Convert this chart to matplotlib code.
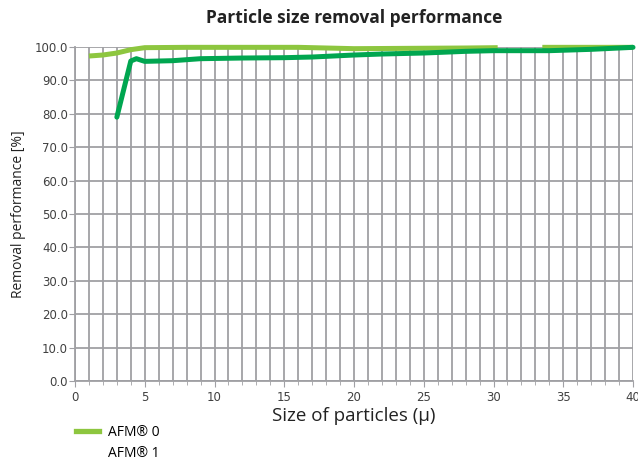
import numpy as np
import matplotlib
matplotlib.use('Agg')
import matplotlib.pyplot as plt
from matplotlib import ticker
from matplotlib.lines import Line2D

# AFM 0 (light green), gap between ~30 and ~33.5
afm0_x = [1, 2, 3, 4, 5, 8, 12, 16, 18, 20, 24, 28, 30.3, np.nan, 33.5, 36, 40]
afm0_y = [97.3, 97.6, 98.2, 99.2, 99.8, 99.9, 99.9, 99.9, 99.7, 99.5, 99.6, 99.7, 99.8, np.nan, 99.9, 99.9, 99.9]

# AFM 1 (dark green)
afm1_x = [3, 4, 4.4, 5, 7, 9, 12, 15, 17, 20, 22, 25, 28, 30, 34, 37, 40]
afm1_y = [79.0, 95.8, 96.5, 95.7, 95.9, 96.5, 96.7, 96.8, 97.0, 97.6, 97.9, 98.2, 98.7, 98.9, 98.9, 99.3, 99.9]

light = '#8dc63f'
dark = '#00a650'
grid_col = '#a0a0a4'

fig = plt.figure(figsize=(6.38, 4.61), dpi=100)
ax = fig.add_axes([75/638, 1-381/461, 558/638, 334/461])

ax.plot(afm0_x, afm0_y, color=light, lw=3.6, solid_capstyle='butt', zorder=3, clip_on=False)
ax.plot(afm1_x, afm1_y, color=dark, lw=3.6, solid_capstyle='round', zorder=4, clip_on=False)

ax.set_xlim(0, 40)
ax.set_ylim(0, 100)
ax.xaxis.set_major_locator(ticker.MultipleLocator(5))
ax.xaxis.set_minor_locator(ticker.MultipleLocator(1))
ax.yaxis.set_major_locator(ticker.MultipleLocator(10))
ax.yaxis.set_major_formatter(ticker.FormatStrFormatter('%.1f'))

ax.grid(True, which='both', axis='x', color=grid_col, lw=1.3)
ax.grid(True, which='major', axis='y', color=grid_col, lw=1.3)
ax.set_axisbelow(True)
for s in ['top', 'right']:
    ax.spines[s].set_visible(False)
for s in ['left', 'bottom']:
    ax.spines[s].set_color(grid_col)
    ax.spines[s].set_linewidth(1.3)

ax.tick_params(axis='both', which='both', direction='out', color=grid_col,
               labelsize=8.5, labelcolor='#404040')
ax.tick_params(axis='x', which='major', length=4, pad=3)
ax.tick_params(axis='x', which='minor', length=3)
ax.tick_params(axis='y', length=4, pad=1)

ax.set_xlabel('Size of particles (μ)', fontsize=13.5, family='Open Sans',
              color='#222222', labelpad=2)
ax.set_ylabel('Removal performance [%]', fontsize=10, family='Open Sans',
              color='#222222', labelpad=6)
fig.text(354/638, 1-18/461, 'Particle size removal performance', ha='center',
         va='center', fontsize=12.5, fontweight='bold', family='Open Sans',
         color='#222222')

handles = [Line2D([], [], color=light, lw=3.8),
           Line2D([], [], color='none', lw=3.8)]
fig.legend(handles, ['AFM® 0', 'AFM® 1'], loc='upper left',
           bbox_to_anchor=(68/638, 1-417/461), frameon=False,
           handlelength=1.6, handletextpad=0.7, labelspacing=0.4,
           borderaxespad=0.2, prop={'family': 'Open Sans', 'size': 10})

fig.savefig('out.png', dpi=100)
